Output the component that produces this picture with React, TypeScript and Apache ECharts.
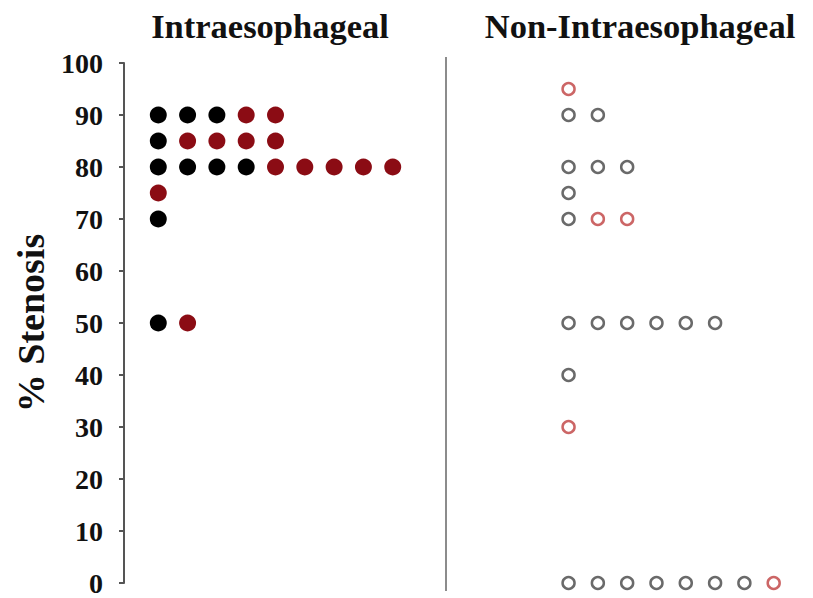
import React, { useEffect, useRef } from "react";
import * as echarts from "echarts";

// Titles of the two groups
const groupTitles = ["Intraesophageal", "Non-Intraesophageal"];
const yAxisName = "% Stenosis";
const yTicks = [0, 10, 20, 30, 40, 50, 60, 70, 80, 90, 100];

// Intraesophageal (filled dots): each row = stenosis value, then colour codes per column ("k" black, "r" red)
const intraRows: [number, string[]][] = [
  [90, ["k", "k", "k", "r", "r"]],
  [85, ["k", "r", "r", "r", "r"]],
  [80, ["k", "k", "k", "k", "r", "r", "r", "r", "r"]],
  [75, ["r"]],
  [70, ["k"]],
  [50, ["k", "r"]],
];

// Non-Intraesophageal (hollow dots): "g" grey, "r" red
const nonIntraRows: [number, string[]][] = [
  [95, ["r"]],
  [90, ["g", "g"]],
  [80, ["g", "g", "g"]],
  [75, ["g"]],
  [70, ["g", "r", "r"]],
  [50, ["g", "g", "g", "g", "g", "g"]],
  [40, ["g"]],
  [30, ["r"]],
  [0, ["g", "g", "g", "g", "g", "g", "g", "r"]],
];

const rightGroupOffset = 14; // column index where the right group starts

function pointsFor(rows: [number, string[]][], code: string, offset: number) {
  const out: number[][] = [];
  rows.forEach(([v, cols]) => {
    cols.forEach((c, i) => {
      if (c === code) out.push([offset + i, v]);
    });
  });
  return out;
}

export default function App() {
  const ref = useRef<HTMLDivElement>(null);
  useEffect(() => {
    document.body.style.margin = "0";
    const chart = echarts.init(ref.current!, null, { renderer: "svg" });
    const serif = "'Liberation Serif', 'Times New Roman', serif";
    chart.setOption({
      animation: false,
      backgroundColor: "#ffffff",
      title: [
        {
          text: groupTitles[0],
          left: 265,
          top: 3,
          textAlign: "center",
          textStyle: { fontFamily: serif, fontWeight: "bold", fontSize: 34.5, color: "#111" },
        },
        {
          text: groupTitles[1],
          left: 635,
          top: 3,
          textAlign: "center",
          textStyle: { fontFamily: serif, fontWeight: "bold", fontSize: 34.5, color: "#111" },
        },
      ],
      grid: { left: 124, top: 63, bottom: 15, width: 679, containLabel: false },
      xAxis: {
        type: "value",
        min: -1.17,
        max: 22,
        show: false,
      },
      yAxis: {
        type: "value",
        min: 0,
        max: 100,
        interval: 10,
        name: yAxisName,
        nameLocation: "middle",
        nameRotate: 90,
        nameGap: 66,
        nameTextStyle: { fontFamily: serif, fontWeight: "bold", fontSize: 38, color: "#111" },
        axisLine: { show: true, onZero: false, lineStyle: { color: "#555", width: 2 } },
        axisTick: { show: true, length: 5, lineStyle: { color: "#555", width: 2 } },
        axisLabel: {
          margin: 21,
          fontFamily: serif,
          fontWeight: "bold",
          fontSize: 28,
          color: "#111",
          formatter: (v: number) => (yTicks.includes(v) ? String(v) : ""),
        },
        splitLine: { show: false },
      },
      graphic: [
        {
          type: "line",
          shape: { x1: 446, y1: 57, x2: 446, y2: 591 },
          style: { stroke: "#666", lineWidth: 1.5 },
        },
      ],
      series: [
        {
          type: "scatter",
          data: pointsFor(intraRows, "k", 0),
          symbol: "circle",
          symbolSize: 17,
          itemStyle: { color: "#000", opacity: 1 },
        },
        {
          type: "scatter",
          data: pointsFor(intraRows, "r", 0),
          symbol: "circle",
          symbolSize: 17,
          itemStyle: { color: "#8b0c14", opacity: 1 },
        },
        {
          type: "scatter",
          data: pointsFor(nonIntraRows, "g", rightGroupOffset),
          symbol: "circle",
          symbolSize: 12,
          itemStyle: { color: "#fff", borderColor: "#6a6a6a", borderWidth: 2.5, opacity: 1 },
        },
        {
          type: "scatter",
          data: pointsFor(nonIntraRows, "r", rightGroupOffset),
          symbol: "circle",
          symbolSize: 12,
          itemStyle: { color: "#fff", borderColor: "#cc6666", borderWidth: 2.5, opacity: 1 },
        },
      ],
    });
    return () => chart.dispose();
  }, []);
  return <div ref={ref} style={{ width: 813, height: 598 }} />;
}
